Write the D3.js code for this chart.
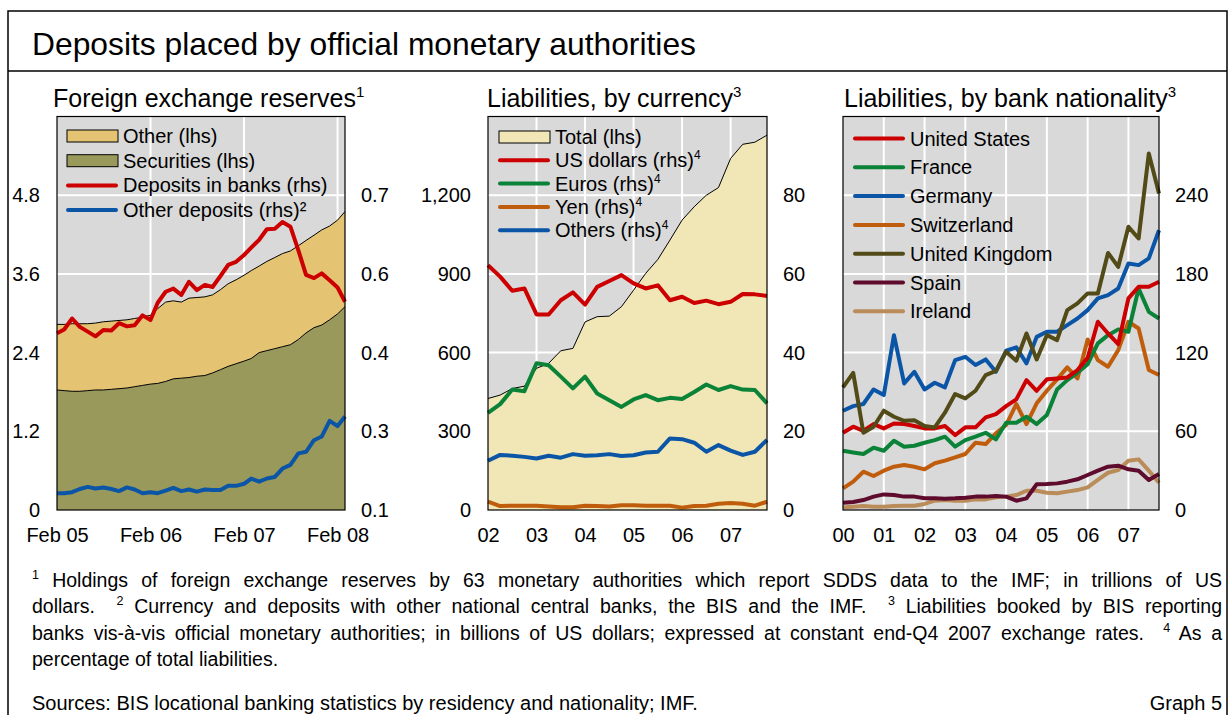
<!DOCTYPE html>
<html>
<head>
<meta charset="utf-8">
<script src="https://cdn.jsdelivr.net/npm/d3@7"></script>
<style>
  body { margin: 0; background: #fff; }
  text { font-family: "Liberation Sans", Arial, sans-serif; fill: #000; }
</style>
</head>
<body>
<svg id="chart" width="1230" height="715"></svg>
<script>
// ---- panel 1: foreign exchange reserves, monthly Feb 05 .. Mar 08 ----
const fxSecurities = [1.83,1.82,1.81,1.81,1.82,1.83,1.83,1.84,1.85,1.86,1.88,1.90,1.92,1.93,1.96,2.00,2.01,2.02,2.04,2.05,2.09,2.14,2.19,2.23,2.27,2.31,2.40,2.43,2.46,2.49,2.52,2.60,2.70,2.78,2.82,2.90,2.99,3.10];
const fxOther = [1.00,1.01,1.03,1.03,1.02,1.02,1.04,1.04,1.04,1.04,1.04,1.04,1.05,1.14,1.21,1.19,1.16,1.21,1.20,1.20,1.19,1.22,1.26,1.28,1.31,1.34,1.32,1.36,1.39,1.42,1.43,1.43,1.41,1.41,1.45,1.43,1.43,1.45];
const depositsInBanks = [0.437,0.444,0.465,0.449,0.440,0.431,0.443,0.442,0.456,0.450,0.452,0.471,0.462,0.495,0.516,0.522,0.510,0.535,0.519,0.529,0.525,0.546,0.567,0.573,0.586,0.600,0.615,0.635,0.636,0.649,0.640,0.595,0.548,0.542,0.551,0.538,0.524,0.497];
const otherDeposits = [0.132,0.132,0.134,0.140,0.144,0.141,0.143,0.140,0.136,0.143,0.139,0.132,0.134,0.132,0.137,0.142,0.136,0.139,0.135,0.139,0.138,0.138,0.146,0.146,0.150,0.160,0.154,0.160,0.163,0.179,0.186,0.208,0.211,0.233,0.240,0.270,0.260,0.278];
const p1XTicks = ["Feb 05", "Feb 06", "Feb 07", "Feb 08"];
const p1LeftTicks = [0, 1.2, 2.4, 3.6, 4.8];
const p1RightTicks = [0.1, 0.25, 0.4, 0.55, 0.7];

// ---- panel 2: liabilities by currency, quarterly Q1 02 .. Q4 07 ----
const liabTotal = [425,438,463,472,540,559,607,616,717,737,739,775,838,902,955,1029,1105,1156,1200,1229,1340,1394,1402,1429];
const usDollars = [62.2,59.3,55.7,56.3,49.7,49.7,53.3,55.3,52.2,56.7,58.2,59.7,57.6,56.3,57.1,53.3,54.2,52.6,53.2,52.3,52.9,54.9,54.8,54.4];
const euros = [24.7,26.9,30.6,30.2,37.3,36.8,33.9,30.9,33.9,29.6,27.9,26.2,28.1,29.2,27.9,28.5,28.2,30.0,31.9,30.5,31.5,30.6,30.5,27.1];
const yen = [2.1,1.0,1.1,1.1,1.1,0.9,0.7,0.7,1.1,1.0,0.9,1.2,1.2,1.1,1.1,1.1,0.6,1.0,1.1,1.6,1.8,1.6,1.1,2.1];
const othersCcy = [12.5,14.0,13.8,13.5,13.1,13.8,13.3,14.2,13.8,13.9,14.2,13.7,13.9,14.6,14.8,18.2,18.0,17.1,14.8,16.5,15.1,14.0,14.8,17.8];
const p2XTicks = [2002, 2003, 2004, 2005, 2006, 2007];
const p2LeftTicks = [0, 300, 600, 900, 1200];
const p2RightTicks = [0, 20, 40, 60, 80];

// ---- panel 3: liabilities by bank nationality, quarterly Q1 00 .. Q4 07 ----
const natUS = [58.9,63.5,60.4,65.5,62.2,66.0,65.5,64.0,62.2,62.2,64.0,57.1,63.0,63.0,70.6,73.1,79.2,84.3,99.0,90.9,99.6,100.3,101.1,106.7,116.0,143.5,134.6,126.5,161.3,170.2,170.2,174.0];
const natFrance = [45.2,43.9,42.7,47.5,45.2,52.8,48.3,49.0,51.3,53.3,55.9,48.3,53.3,55.9,58.9,53.8,66.5,66.5,71.1,65.5,72.4,91.9,99.0,104.6,111.2,127.0,133.3,137.7,135.9,168.9,151.1,146.0];
const natGermany = [75.7,79.2,80.8,91.9,87.6,133.3,96.5,105.4,91.9,97.0,93.5,114.3,116.8,110.5,114.8,105.4,121.4,124.0,111.8,132.0,135.9,135.9,141.0,146.0,152.4,161.3,163.8,168.9,188.0,186.7,191.8,213.3];
const natSwitzerland = [16.5,21.6,29.2,25.9,30.0,33.0,34.3,33.0,31.0,35.6,37.6,40.1,42.7,51.3,50.3,58.4,64.8,80.8,65.5,81.3,90.9,99.6,108.7,100.3,130.0,114.3,109.2,121.9,143.5,138.4,106.7,102.9];
const natUK = [93.5,104.6,58.9,63.5,75.7,71.1,68.0,68.5,64.0,63.0,74.2,88.4,85.1,90.9,102.9,106.1,120.6,113.8,134.6,114.8,133.3,129.5,152.4,157.5,165.1,165.1,196.0,185.4,215.9,207.0,271.8,241.3];
const natSpain = [5.6,6.1,7.6,10.2,11.9,11.4,10.2,10.2,8.9,8.9,8.6,8.9,9.4,10.2,10.2,10.7,10.2,7.1,8.9,19.6,19.8,20.3,21.6,23.4,26.7,30.0,33.0,33.8,31.0,30.0,22.9,27.4];
const natIreland = [2.0,2.5,3.0,2.5,2.5,3.0,3.3,3.3,4.6,7.1,7.6,7.1,7.1,8.1,8.1,9.7,10.2,11.4,14.7,14.7,13.2,12.7,14.0,15.2,17.3,22.9,28.4,30.5,37.6,38.6,30.0,20.8];
const p3XTicks = [2000, 2001, 2002, 2003, 2004, 2005, 2006, 2007];
const p3RightTicks = [0, 60, 120, 180, 240];

const colors = {
  bg: "#d9d9d9", other: "#e4c472", securities: "#9a995c", total: "#f0e6b6",
  red: "#cc0000", blue: "#0b55a6", green: "#0a8238", orange: "#bf5d0c",
  uk: "#524a17", spain: "#5f0b2d", ireland: "#b98c5a"
};

const svg = d3.select("#chart");
const plotTop = 116.5, plotBottom = 510;

// outer frame and heading
svg.append("rect").attr("x", 8).attr("y", 11).attr("width", 1219).attr("height", 720)
  .attr("fill", "none").attr("stroke", "#000").attr("stroke-width", 1.5);
svg.append("line").attr("x1", 8).attr("x2", 1227).attr("y1", 71).attr("y2", 71)
  .attr("stroke", "#000").attr("stroke-width", 1.5);
svg.append("text").attr("x", 32).attr("y", 55).style("font-size", "31.8px")
  .text("Deposits placed by official monetary authorities");

function panelTitle(x, label, sup) {
  const t = svg.append("text").attr("x", x).attr("y", 107).style("font-size", "25px");
  t.append("tspan").text(label);
  t.append("tspan").attr("dy", -10).style("font-size", "15px").text(sup);
}

function background(x, y, xGrid, yGrid) {
  const g = svg.append("g");
  g.append("rect").attr("x", x.range()[0]).attr("y", plotTop)
    .attr("width", x.range()[1] - x.range()[0]).attr("height", plotBottom - plotTop)
    .attr("fill", colors.bg);
  g.selectAll(".vg").data(xGrid).join("line")
    .attr("x1", d => x(d)).attr("x2", d => x(d))
    .attr("y1", plotTop).attr("y2", plotBottom)
    .attr("stroke", "#fff").attr("stroke-width", 2);
  g.selectAll(".hg").data(yGrid).join("line")
    .attr("x1", x.range()[0]).attr("x2", x.range()[1])
    .attr("y1", d => y(d)).attr("y2", d => y(d))
    .attr("stroke", "#fff").attr("stroke-width", 2);
}

function border(x) {
  svg.append("rect").attr("x", x.range()[0]).attr("y", plotTop)
    .attr("width", x.range()[1] - x.range()[0]).attr("height", plotBottom - plotTop)
    .attr("fill", "none").attr("stroke", "#000").attr("stroke-width", 1.2);
}

function axes(x, xVals, xFmt, yL, lVals, lFmt, yR, rVals, rFmt) {
  svg.append("g").attr("transform", `translate(0,${plotBottom})`)
    .call(d3.axisBottom(x).tickValues(xVals).tickFormat(xFmt).tickSize(0).tickPadding(18));
  if (yL) {
    svg.append("g").attr("transform", `translate(${x.range()[0]},0)`)
      .call(d3.axisLeft(yL).tickValues(lVals).tickFormat(lFmt).tickSize(0).tickPadding(17));
  }
  svg.append("g").attr("transform", `translate(${x.range()[1]},0)`)
    .call(d3.axisRight(yR).tickValues(rVals).tickFormat(rFmt).tickSize(0).tickPadding(16));
  svg.selectAll(".domain").remove();
  svg.selectAll(".tick text").style("font-size", "20px")
    .style("font-family", '"Liberation Sans", Arial, sans-serif').attr("fill", "#000");
}

function drawLine(x, y, xs, vals, color) {
  svg.append("path").datum(vals)
    .attr("fill", "none").attr("stroke", color).attr("stroke-width", 4)
    .attr("stroke-linejoin", "round")
    .attr("d", d3.line().x((d, i) => x(xs[i])).y(d => y(d)));
}

function legend(x0, y0, step, items) {
  const g = svg.append("g");
  items.forEach((it, i) => {
    const cy = y0 + i * step;
    if (it.type === "area") {
      g.append("rect").attr("x", x0).attr("y", cy - 6).attr("width", 51).attr("height", 12)
        .attr("fill", it.color).attr("stroke", "#000").attr("stroke-width", 1);
    } else {
      g.append("line").attr("x1", x0 + 1).attr("x2", x0 + 49).attr("y1", cy).attr("y2", cy)
        .attr("stroke", it.color).attr("stroke-width", 4).attr("stroke-linecap", "round");
    }
    const t = g.append("text").attr("x", x0 + 56).attr("y", cy + 7).style("font-size", "20px");
    t.append("tspan").text(it.label);
    if (it.sup) t.append("tspan").attr("dy", -8).style("font-size", "12px").text(it.sup);
  });
}

// ================= panel 1 =================
const months = fxSecurities.map((d, i) => d3.timeMonth.offset(new Date(2005, 1, 1), i));
const x1 = d3.scaleTime().domain([months[0], months[months.length - 1]]).range([57, 345]);
const y1L = d3.scaleLinear().domain([0, 6]).range([plotBottom, plotTop]);
const y1R = d3.scaleLinear().domain([0.1, 0.85]).range([plotBottom, plotTop]);
const p1TickDates = p1XTicks.map((d, i) => new Date(2005 + i, 1, 1));

panelTitle(53, "Foreign exchange reserves", "1");
background(x1, y1L, p1TickDates.slice(1), p1LeftTicks.slice(1));

const stack1 = d3.stack().keys(["sec", "oth"])(months.map((m, i) => ({ sec: fxSecurities[i], oth: fxOther[i] })));
const area1 = d3.area().x((d, i) => x1(months[i])).y0(d => y1L(d[0])).y1(d => y1L(d[1]));
svg.append("path").datum(stack1[1]).attr("fill", colors.other).attr("d", area1);
svg.append("path").datum(stack1[0]).attr("fill", colors.securities).attr("d", area1);
const top1 = d3.line().x((d, i) => x1(months[i])).y(d => y1L(d[1]));
svg.append("path").datum(stack1[1]).attr("fill", "none").attr("stroke", "#000").attr("stroke-width", 1).attr("d", top1);
svg.append("path").datum(stack1[0]).attr("fill", "none").attr("stroke", "#000").attr("stroke-width", 1).attr("d", top1);

drawLine(x1, y1R, months, depositsInBanks, colors.red);
drawLine(x1, y1R, months, otherDeposits, colors.blue);
border(x1);
axes(x1, p1TickDates, (d, i) => p1XTicks[i],
  y1L, p1LeftTicks, d => d === 0 ? "0" : d3.format(".1f")(d),
  y1R, p1RightTicks, d => (Math.round(d * 10 + 1e-9) / 10).toFixed(1));

legend(67, 136, 24.7, [
  { type: "area", color: colors.other, label: "Other (lhs)" },
  { type: "area", color: colors.securities, label: "Securities (lhs)" },
  { type: "line", color: colors.red, label: "Deposits in banks (rhs)" },
  { type: "line", color: colors.blue, label: "Other deposits (rhs)\u00b2" }
]);

// ================= panel 2 =================
const q2 = liabTotal.map((d, i) => 2002 + i / 4);
const x2 = d3.scaleLinear().domain([2002, 2007.75]).range([488, 767]);
const y2L = d3.scaleLinear().domain([0, 1500]).range([plotBottom, plotTop]);
const y2R = d3.scaleLinear().domain([0, 100]).range([plotBottom, plotTop]);

panelTitle(487, "Liabilities, by currency", "3");
background(x2, y2L, p2XTicks.slice(1), p2LeftTicks.slice(1));
svg.append("path").datum(liabTotal).attr("fill", colors.total)
  .attr("d", d3.area().x((d, i) => x2(q2[i])).y0(plotBottom).y1(d => y2L(d)));
svg.append("path").datum(liabTotal).attr("fill", "none").attr("stroke", "#000").attr("stroke-width", 1)
  .attr("d", d3.line().x((d, i) => x2(q2[i])).y(d => y2L(d)));
drawLine(x2, y2R, q2, usDollars, colors.red);
drawLine(x2, y2R, q2, euros, colors.green);
drawLine(x2, y2R, q2, yen, colors.orange);
drawLine(x2, y2R, q2, othersCcy, colors.blue);
border(x2);
axes(x2, p2XTicks, d => String(d).slice(2),
  y2L, p2LeftTicks, d3.format(","),
  y2R, p2RightTicks, d3.format("d"));

legend(499, 137, 23.3, [
  { type: "area", color: colors.total, label: "Total (lhs)" },
  { type: "line", color: colors.red, label: "US dollars (rhs)", sup: "4" },
  { type: "line", color: colors.green, label: "Euros (rhs)", sup: "4" },
  { type: "line", color: colors.orange, label: "Yen (rhs)", sup: "4" },
  { type: "line", color: colors.blue, label: "Others (rhs)", sup: "4" }
]);

// ================= panel 3 =================
const q3 = natUS.map((d, i) => 2000 + i / 4);
const x3 = d3.scaleLinear().domain([2000, 2007.75]).range([843, 1159]);
const y3R = d3.scaleLinear().domain([0, 300]).range([plotBottom, plotTop]);

panelTitle(844, "Liabilities, by bank nationality", "3");
background(x3, y3R, p3XTicks.slice(1), p3RightTicks.slice(1));
const nat = [
  { label: "United States", vals: natUS, color: colors.red },
  { label: "France", vals: natFrance, color: colors.green },
  { label: "Germany", vals: natGermany, color: colors.blue },
  { label: "Switzerland", vals: natSwitzerland, color: colors.orange },
  { label: "United Kingdom", vals: natUK, color: colors.uk },
  { label: "Spain", vals: natSpain, color: colors.spain },
  { label: "Ireland", vals: natIreland, color: colors.ireland }
];
[6, 5, 3, 1, 0, 2, 4].forEach(k => drawLine(x3, y3R, q3, nat[k].vals, nat[k].color));
border(x3);
axes(x3, p3XTicks, d => String(d).slice(2), null, null, null, y3R, p3RightTicks, d3.format("d"));
legend(854, 138.5, 28.8, nat.map(n => ({ type: "line", color: n.color, label: n.label })));

// ================= footnotes =================
const footLines = [
  [["1", true], [" Holdings of foreign exchange reserves by 63 monetary authorities which report SDDS data to the IMF; in trillions of US", false]],
  [["dollars.  ", false], ["2", true], [" Currency and deposits with other national central banks, the BIS and the IMF.  ", false], ["3", true], [" Liabilities booked by BIS reporting", false]],
  [["banks vis-\u00e0-vis official monetary authorities; in billions of US dollars; expressed at constant end-Q4 2007 exchange rates.  ", false], ["4", true], [" As a", false]],
  [["percentage of total liabilities.", false]]
];
const footX0 = 32, footX1 = 1222;
footLines.forEach((segs, li) => {
  const t = svg.append("text").attr("x", footX0).attr("y", 587 + li * 26.3)
    .style("font-size", "19.5px").style("white-space", "pre");
  let prevSup = false;
  segs.forEach(([s, sup]) => {
    const dy = sup ? -8 : (prevSup ? 8 : 0);
    const ts = t.append("tspan").attr("dy", dy).text(s);
    if (sup) ts.style("font-size", "12.5px");
    prevSup = sup;
  });
  if (li < footLines.length - 1) {
    const natural = t.node().getComputedTextLength();
    const spaces = segs.map(z => z[0]).join("").split(" ").length - 1;
    t.style("word-spacing", ((footX1 - footX0 - natural) / spaces) + "px");
  }
});
svg.append("text").attr("x", 32).attr("y", 710).style("font-size", "20px")
  .text("Sources: BIS locational banking statistics by residency and nationality; IMF.");
svg.append("text").attr("x", 1222).attr("y", 710).attr("text-anchor", "end").style("font-size", "20px")
  .text("Graph 5");
</script>
</body>
</html>
